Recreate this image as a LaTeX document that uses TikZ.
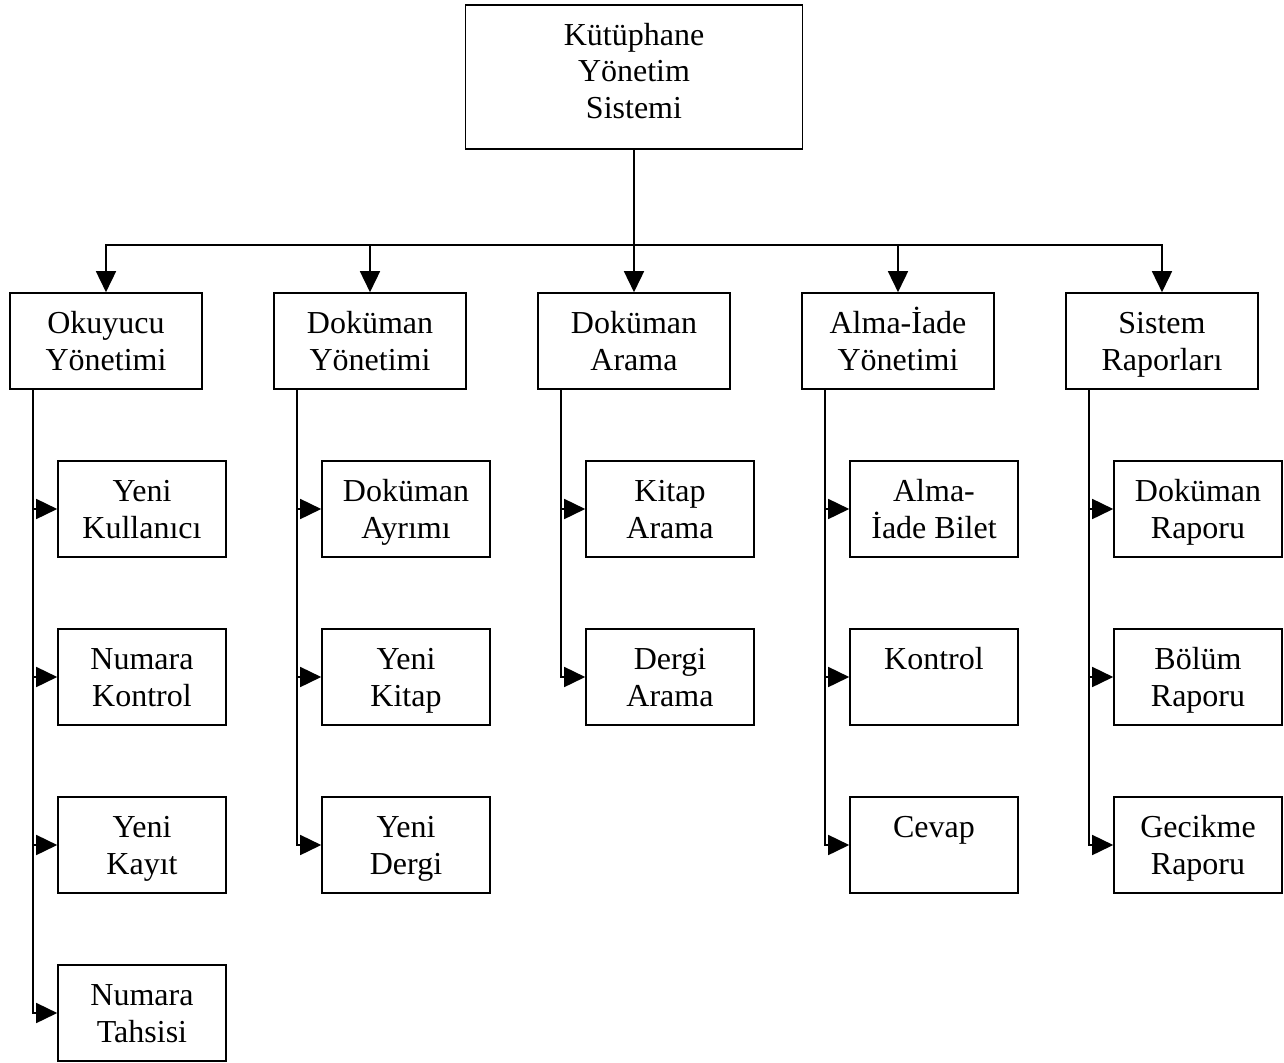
\documentclass[tikz,border=0pt]{standalone}
\usepackage{fontspec}
\setmainfont{Liberation Serif}
\usetikzlibrary{arrows.meta}

% box contents: text hangs from the top edge, first baseline 40.5pt down
\newcommand\boxtext[3]{\parbox[c][#2][t]{#1}{\centering\rule{0pt}{40.5pt}#3\par}}
\newcommand\roottext[1]{\boxtext{337pt}{144pt}{#1}}
\newcommand\modtext[1]{\boxtext{192pt}{96pt}{#1}}
\newcommand\leaftext[1]{\boxtext{168pt}{96pt}{#1}}

\tikzset{
  box/.style={draw, rectangle, line width=1.6pt, inner sep=0pt,
              font=\fontsize{32pt}{36.5pt}\selectfont},
  wire/.style={line width=1.6pt},
  arr/.style={wire, -{Triangle[length=21pt,width=20pt]}},
}

\begin{document}
\begin{tikzpicture}[x=1pt,y=-1pt]
\useasboundingbox (0,0) rectangle (1284,1062);

% root
\node[box] (root) at (634,77) {\roottext{Kütüphane\\Yönetim\\Sistemi}};

% modules
\node[box] (m1) at (106,341)  {\modtext{Okuyucu\\Yönetimi}};
\node[box] (m2) at (370,341)  {\modtext{Doküman\\Yönetimi}};
\node[box] (m3) at (634,341)  {\modtext{Doküman\\Arama}};
\node[box] (m4) at (898,341)  {\modtext{Alma-İade\\Yönetimi}};
\node[box] (m5) at (1162,341) {\modtext{Sistem\\Raporları}};

% sub-functions
\node[box] (a1) at (142,509)  {\leaftext{Yeni\\Kullanıcı}};
\node[box] (a2) at (142,677)  {\leaftext{Numara\\Kontrol}};
\node[box] (a3) at (142,845)  {\leaftext{Yeni\\Kayıt}};
\node[box] (a4) at (142,1013) {\leaftext{Numara\\Tahsisi}};

\node[box] (b1) at (406,509)  {\leaftext{Doküman\\Ayrımı}};
\node[box] (b2) at (406,677)  {\leaftext{Yeni\\Kitap}};
\node[box] (b3) at (406,845)  {\leaftext{Yeni\\Dergi}};

\node[box] (c1) at (670,509)  {\leaftext{Kitap\\Arama}};
\node[box] (c2) at (670,677)  {\leaftext{Dergi\\Arama}};

\node[box] (d1) at (934,509)  {\leaftext{Alma-\\İade Bilet}};
\node[box] (d2) at (934,677)  {\leaftext{Kontrol}};
\node[box] (d3) at (934,845)  {\leaftext{Cevap}};

\node[box] (e1) at (1198,509) {\leaftext{Doküman\\Raporu}};
\node[box] (e2) at (1198,677) {\leaftext{Bölüm\\Raporu}};
\node[box] (e3) at (1198,845) {\leaftext{Gecikme\\Raporu}};

% root to modules
\coordinate (bus) at (634,245);
\draw[wire] (root.south) -- (bus);
\foreach \m in {m1,m2,m3,m4,m5}
  \draw[arr] (bus) -| (\m.north);

% modules to sub-functions
\foreach \m/\list in {m1/{a1,a2,a3,a4}, m2/{b1,b2,b3}, m3/{c1,c2},
                      m4/{d1,d2,d3}, m5/{e1,e2,e3}} {
  \coordinate (\m-s) at ([xshift=24pt]\m.south west);
  \foreach \c in \list
    \draw[arr] (\m-s) |- (\c.west);
}
\end{tikzpicture}
\end{document}
